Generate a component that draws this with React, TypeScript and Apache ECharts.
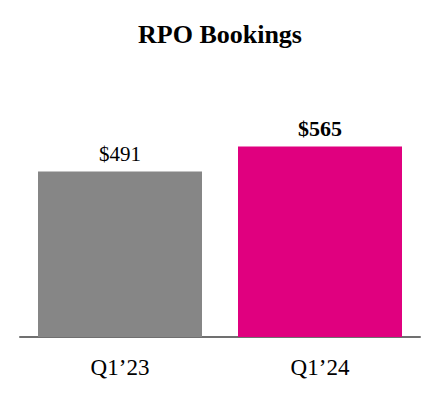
import React, { useEffect, useRef } from "react";
import * as echarts from "echarts";

const categories = ["Q1\u201923", "Q1\u201924"];
const values = [491, 565];
const labels = ["$491", "$565"];
const colors = ["#868686", "#E0007F"];

export default function App() {
  const ref = useRef<HTMLDivElement>(null);
  useEffect(() => {
    if (!ref.current) return;
    const chart = echarts.init(ref.current, null, { renderer: "svg" });
    chart.setOption({
      animation: false,
      backgroundColor: "#ffffff",
      textStyle: { fontFamily: "Liberation Serif" },
      title: {
        text: "RPO Bookings",
        left: "center",
        top: 16,
        textStyle: {
          fontFamily: "Liberation Serif",
          fontSize: 26,
          fontWeight: "bold",
          color: "#000",
        },
      },
      grid: { left: 20, right: 20, top: 101, bottom: 63 },
      xAxis: {
        type: "category",
        data: categories,
        axisLine: { lineStyle: { color: "#707070", width: 2 } },
        axisTick: { show: false },
        axisLabel: {
          fontFamily: "Liberation Serif",
          fontSize: 23,
          color: "#000",
          margin: 19,
        },
      },
      yAxis: {
        type: "value",
        min: 0,
        max: 700,
        show: false,
        splitLine: { show: false },
      },
      series: [
        {
          type: "bar",
          barWidth: "82%",
          data: values.map((v, i) => ({
            value: v,
            itemStyle: { color: colors[i] },
            label: {
              show: true,
              position: "top",
              distance: 7,
              formatter: labels[i],
              fontFamily: "Liberation Serif",
              fontSize: i === 1 ? 22 : 21,
              fontWeight: i === 1 ? "bold" : "normal",
              color: "#000",
            },
          })),
        },
      ],
    });
    return () => chart.dispose();
  }, []);
  return (
    <div
      ref={ref}
      style={{ position: "fixed", left: 0, top: 0, width: 440, height: 400 }}
    />
  );
}
